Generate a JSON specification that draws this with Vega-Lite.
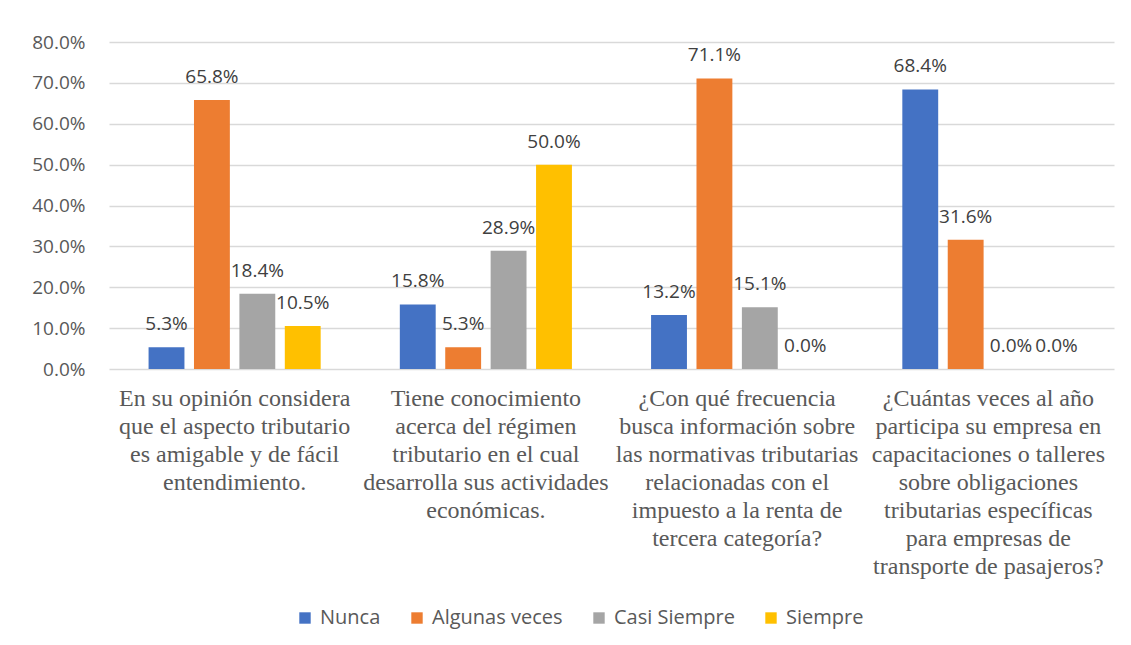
{
  "$schema": "https://vega.github.io/schema/vega-lite/v6.json",
  "width": 1005,
  "height": 327,
  "padding": {"left": 31, "top": 33, "right": 13, "bottom": 5},
  "background": "white",
  "data": {
    "values": [
      {"pregunta": "En su opinión considera|que el aspecto tributario|es amigable y de fácil|entendimiento.", "respuesta": "Nunca", "valor": 0.053},
      {"pregunta": "En su opinión considera|que el aspecto tributario|es amigable y de fácil|entendimiento.", "respuesta": "Algunas veces", "valor": 0.658},
      {"pregunta": "En su opinión considera|que el aspecto tributario|es amigable y de fácil|entendimiento.", "respuesta": "Casi Siempre", "valor": 0.184},
      {"pregunta": "En su opinión considera|que el aspecto tributario|es amigable y de fácil|entendimiento.", "respuesta": "Siempre", "valor": 0.105},
      {"pregunta": "Tiene conocimiento|acerca del régimen|tributario en el cual|desarrolla sus actividades|económicas.", "respuesta": "Nunca", "valor": 0.158},
      {"pregunta": "Tiene conocimiento|acerca del régimen|tributario en el cual|desarrolla sus actividades|económicas.", "respuesta": "Algunas veces", "valor": 0.053},
      {"pregunta": "Tiene conocimiento|acerca del régimen|tributario en el cual|desarrolla sus actividades|económicas.", "respuesta": "Casi Siempre", "valor": 0.289},
      {"pregunta": "Tiene conocimiento|acerca del régimen|tributario en el cual|desarrolla sus actividades|económicas.", "respuesta": "Siempre", "valor": 0.5},
      {"pregunta": "¿Con qué frecuencia|busca información sobre|las normativas tributarias|relacionadas con el|impuesto a la renta de|tercera categoría?", "respuesta": "Nunca", "valor": 0.132},
      {"pregunta": "¿Con qué frecuencia|busca información sobre|las normativas tributarias|relacionadas con el|impuesto a la renta de|tercera categoría?", "respuesta": "Algunas veces", "valor": 0.711},
      {"pregunta": "¿Con qué frecuencia|busca información sobre|las normativas tributarias|relacionadas con el|impuesto a la renta de|tercera categoría?", "respuesta": "Casi Siempre", "valor": 0.151},
      {"pregunta": "¿Con qué frecuencia|busca información sobre|las normativas tributarias|relacionadas con el|impuesto a la renta de|tercera categoría?", "respuesta": "Siempre", "valor": 0.0},
      {"pregunta": "¿Cuántas veces al año|participa su empresa en|capacitaciones o talleres|sobre obligaciones|tributarias específicas|para empresas de|transporte de pasajeros?", "respuesta": "Nunca", "valor": 0.684},
      {"pregunta": "¿Cuántas veces al año|participa su empresa en|capacitaciones o talleres|sobre obligaciones|tributarias específicas|para empresas de|transporte de pasajeros?", "respuesta": "Algunas veces", "valor": 0.316},
      {"pregunta": "¿Cuántas veces al año|participa su empresa en|capacitaciones o talleres|sobre obligaciones|tributarias específicas|para empresas de|transporte de pasajeros?", "respuesta": "Casi Siempre", "valor": 0.0},
      {"pregunta": "¿Cuántas veces al año|participa su empresa en|capacitaciones o talleres|sobre obligaciones|tributarias específicas|para empresas de|transporte de pasajeros?", "respuesta": "Siempre", "valor": 0.0}
    ]
  },
  "encoding": {
    "x": {
      "field": "pregunta",
      "type": "nominal",
      "sort": null,
      "title": null,
      "scale": {"paddingInner": 0.315, "paddingOuter": 0.1575},
      "axis": {
        "labelExpr": "split(datum.label, '|')",
        "labelAngle": 0,
        "labelAlign": "center",
        "labelBaseline": "top",
        "labelFont": "Liberation Serif",
        "labelFontSize": 24,
        "labelLineHeight": 28,
        "labelColor": "#595959",
        "labelLimit": 0,
        "labelPadding": 17,
        "ticks": false,
        "domain": false
      }
    },
    "xOffset": {
      "field": "respuesta",
      "type": "nominal",
      "sort": ["Nunca", "Algunas veces", "Casi Siempre", "Siempre"],
      "scale": {"paddingInner": 0.21, "paddingOuter": 0}
    },
    "y": {
      "field": "valor",
      "type": "quantitative",
      "title": null,
      "scale": {"domain": [0, 0.8], "nice": false},
      "axis": {
        "format": ".1%",
        "values": [0, 0.1, 0.2, 0.3, 0.4, 0.5, 0.6, 0.7, 0.8],
        "labelFont": "Open Sans",
        "labelFontSize": 19,
        "labelColor": "#595959",
        "labelPadding": 24,
        "ticks": false,
        "domain": false,
        "gridColor": "#d9d9d9",
        "gridWidth": 1.5
      }
    }
  },
  "layer": [
    {
      "mark": {"type": "bar"},
      "encoding": {
        "color": {
          "field": "respuesta",
          "type": "nominal",
          "sort": ["Nunca", "Algunas veces", "Casi Siempre", "Siempre"],
          "scale": {"domain": ["Nunca", "Algunas veces", "Casi Siempre", "Siempre"], "range": ["#4472C4", "#ED7D31", "#A5A5A5", "#FFC000"]},
          "legend": {
            "title": null,
            "orient": "none",
            "legendX": 186,
            "legendY": 566,
            "direction": "horizontal",
            "symbolType": "square",
            "symbolSize": 130,
            "symbolStrokeWidth": 0,
            "labelFont": "Open Sans",
            "labelFontSize": 20,
            "labelColor": "#595959",
            "labelOffset": 5,
            "columnPadding": 26
          }
        }
      }
    },
    {
      "mark": {"type": "text", "baseline": "alphabetic", "dy": -17, "font": "Open Sans", "fontSize": 19, "color": "#404040"},
      "encoding": {
        "text": {"field": "valor", "type": "quantitative", "format": ".1%"}
      }
    }
  ],
  "config": {
    "view": {"stroke": null}
  }
}
